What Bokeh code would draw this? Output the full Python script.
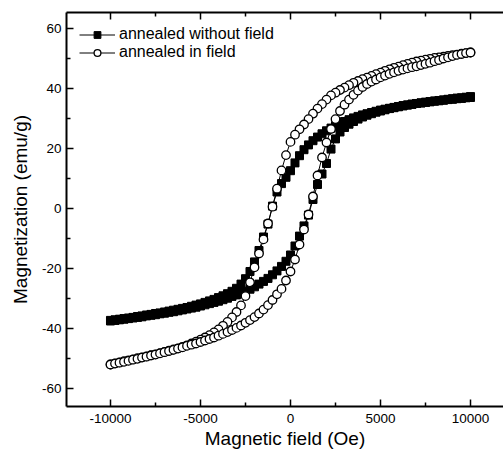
from bokeh.plotting import figure
from bokeh.models import Range1d, LinearAxis, FixedTicker, Legend, LegendItem
from bokeh.embed import file_html
from bokeh.resources import INLINE

# ---- data ----
field_down = [10000, 9750, 9500, 9250, 9000, 8750, 8500, 8250, 8000, 7750,
              7500, 7250, 7000, 6750, 6500, 6250, 6000, 5750, 5500, 5250,
              5000, 4750, 4500, 4250, 4000, 3750, 3500, 3250, 3000, 2750,
              2500, 2250, 2000, 1750, 1500, 1250, 1000, 750, 500, 250,
              0, -250, -500, -750, -1000, -1250, -1500, -1750, -2000, -2250,
              -2500, -2750, -3000, -3250, -3500, -3750, -4000, -4250, -4500, -4750,
              -5000, -5250, -5500, -5750, -6000, -6250, -6500, -6750, -7000, -7250,
              -7500, -7750, -8000, -8250, -8500, -8750, -9000, -9250, -9500, -9750,
              -10000]
field_up = [-10000, -9750, -9500, -9250, -9000, -8750, -8500, -8250, -8000, -7750,
            -7500, -7250, -7000, -6750, -6500, -6250, -6000, -5750, -5500, -5250,
            -5000, -4750, -4500, -4250, -4000, -3750, -3500, -3250, -3000, -2750,
            -2500, -2250, -2000, -1750, -1500, -1250, -1000, -750, -500, -250,
            0, 250, 500, 750, 1000, 1250, 1500, 1750, 2000, 2250,
            2500, 2750, 3000, 3250, 3500, 3750, 4000, 4250, 4500, 4750,
            5000, 5250, 5500, 5750, 6000, 6250, 6500, 6750, 7000, 7250,
            7500, 7750, 8000, 8250, 8500, 8750, 9000, 9250, 9500, 9750,
            10000]

# annealed without field (filled squares)
m_nofield_down = [37.0, 36.9, 36.7, 36.6, 36.4, 36.3, 36.1, 35.9, 35.8, 35.6,
                  35.4, 35.2, 35.0, 34.8, 34.5, 34.3, 34.0, 33.7, 33.4, 33.1,
                  32.8, 32.4, 32.0, 31.6, 31.2, 30.7, 30.2, 29.6, 29.0, 28.3,
                  27.6, 26.8, 25.9, 24.9, 23.8, 22.6, 21.2, 19.6, 17.6, 15.2,
                  12.6, 10.4, 8.3, 5.5, 0.8, -5.2, -9.5, -14.0, -17.8, -21.0,
                  -23.4, -25.2, -26.6, -27.6, -28.4, -29.1, -29.7, -30.3, -30.8, -31.3,
                  -31.8, -32.2, -32.6, -33.0, -33.3, -33.6, -33.9, -34.2, -34.5, -34.8,
                  -35.0, -35.3, -35.5, -35.8, -36.0, -36.3, -36.5, -36.7, -36.9, -37.1,
                  -37.3]
m_nofield_up = [-37.5, -37.3, -37.1, -36.9, -36.7, -36.5, -36.3, -36.1, -35.8, -35.6,
                -35.4, -35.1, -34.9, -34.6, -34.4, -34.1, -33.8, -33.5, -33.2, -32.9,
                -32.5, -32.1, -31.7, -31.3, -30.9, -30.4, -29.9, -29.3, -28.8, -28.2,
                -27.6, -26.9, -26.1, -25.2, -24.3, -23.3, -22.1, -20.8, -19.3, -17.6,
                -15.5, -12.5, -9.2, -5.8, -2.2, 3.0, 8.0, 11.5, 15.0, 19.8,
                23.2, 25.5, 27.0, 28.1, 29.0, 29.8, 30.5, 31.1, 31.6, 32.1,
                32.5, 32.9, 33.3, 33.6, 33.9, 34.2, 34.5, 34.7, 35.0, 35.2,
                35.4, 35.6, 35.8, 36.0, 36.2, 36.4, 36.6, 36.8, 36.9, 37.1,
                37.3]

# annealed in field (open circles)
m_field_down = [52.0, 51.8, 51.6, 51.3, 51.1, 50.9, 50.6, 50.4, 50.2, 49.9,
                49.6, 49.3, 49.0, 48.6, 48.2, 47.8, 47.3, 46.9, 46.4, 45.9,
                45.3, 44.8, 44.2, 43.6, 43.1, 42.5, 41.9, 41.1, 40.3, 39.5,
                38.6, 37.7, 36.3, 34.8, 33.3, 31.6, 29.8, 28.0, 26.4, 24.6,
                22.2, 17.8, 12.7, 6.6, 0.6, -5.0, -10.3, -15.0, -19.6, -24.6,
                -29.2, -32.3, -34.5, -36.3, -37.8, -39.1, -40.3, -41.3, -42.2, -43.0,
                -43.7, -44.4, -45.0, -45.6, -46.1, -46.6, -47.0, -47.4, -47.8, -48.2,
                -48.6, -48.9, -49.3, -49.6, -49.9, -50.3, -50.6, -50.9, -51.3, -51.6,
                -52.0]
m_field_up = [-52.0, -51.7, -51.4, -51.1, -50.8, -50.4, -50.1, -49.7, -49.4, -49.0,
              -48.7, -48.3, -47.9, -47.5, -47.1, -46.7, -46.3, -45.8, -45.4, -45.0,
              -44.5, -44.0, -43.5, -43.0, -42.4, -41.8, -41.2, -40.5, -39.8, -39.0,
              -38.1, -37.2, -36.2, -35.0, -33.7, -32.2, -30.5, -28.6, -26.8, -24.0,
              -21.0, -17.0, -12.0, -7.0, -2.0, 4.0, 11.0, 17.0, 22.0, 26.5,
              29.8, 32.5, 34.6, 36.3, 37.9, 39.3, 40.5, 41.5, 42.3, 43.0,
              43.7, 44.3, 44.9, 45.4, 45.9, 46.3, 46.7, 47.1, 47.4, 47.8,
              48.2, 48.6, 49.1, 49.5, 50.0, 50.4, 50.8, 51.2, 51.5, 51.8,
              52.0]

labels = ["annealed without field", "annealed in field"]
x_ticks = [-10000, -5000, 0, 5000, 10000]
x_tick_labels = ["-10000", "-5000", "0", "5000", "10000"]
x_minor = [-12500, -7500, -2500, 2500, 7500]
y_ticks = [-60, -40, -20, 0, 20, 40, 60]
y_tick_labels = ["-60", "-40", "-20", "0", "20", "40", "60"]
y_minor = [-50, -30, -10, 10, 30, 50]

FONT = "Liberation Sans"

p = figure(width=503, height=454, output_backend="svg", toolbar_location=None,
           x_range=Range1d(-12444, 11833), y_range=Range1d(-66, 65.33),
           min_border_left=66, min_border_right=0, min_border_top=12,
           min_border_bottom=48)
p.outline_line_color = None
p.grid.visible = False
p.background_fill_color = "white"
p.border_fill_color = "white"

x_all_nf = field_down + field_up
m_all_nf = m_nofield_down + m_nofield_up
x_all_f = field_down + field_up
m_all_f = m_field_down + m_field_up

l1 = p.line(x_all_nf, m_all_nf, line_color="black", line_width=1)
s1 = p.scatter(x_all_nf, m_all_nf, marker="square", size=8,
               fill_color="black", line_color="black", line_width=1)
l2 = p.line(x_all_f, m_all_f, line_color="black", line_width=1)
s2 = p.scatter(x_all_f, m_all_f, marker="circle", size=8.5,
               fill_color="white", line_color="black", line_width=1.3)


def style(ax, ticks, minor, tick_labels=None):
    ax.ticker = FixedTicker(ticks=ticks, minor_ticks=minor)
    ax.axis_line_width = 2
    ax.axis_line_color = "black"
    ax.major_tick_in = 7
    ax.major_tick_out = 0
    ax.minor_tick_in = 4
    ax.minor_tick_out = 0
    ax.major_tick_line_width = 1.5
    ax.minor_tick_line_width = 1.5
    ax.major_tick_line_color = "black"
    ax.minor_tick_line_color = "black"
    ax.major_label_text_font = FONT
    if tick_labels is not None:
        ax.major_label_overrides = {t: s for t, s in zip(ticks, tick_labels)}
        ax.major_label_text_font_size = "13.5px"
        ax.major_label_text_color = "black"
    else:
        ax.major_label_text_font_size = "1px"
        ax.major_label_text_color = None
        ax.major_label_standoff = 0
    ax.axis_label_text_font = FONT
    ax.axis_label_text_font_style = "normal"
    ax.axis_label_text_font_size = "19px"
    ax.axis_label_text_color = "black"


style(p.xaxis[0], x_ticks, x_minor, x_tick_labels)
style(p.yaxis[0], y_ticks, y_minor, y_tick_labels)
p.xaxis[0].axis_label = "Magnetic field (Oe)"
p.xaxis[0].major_label_standoff = 7
p.xaxis[0].axis_label_standoff = 2
p.yaxis[0].axis_label = "Magnetization (emu/g)"
p.yaxis[0].major_label_standoff = 5
p.yaxis[0].axis_label_standoff = 8

top = LinearAxis()
style(top, x_ticks, x_minor)
p.add_layout(top, "above")

legend = Legend(items=[LegendItem(label=labels[0], renderers=[l1, s1]),
                       LegendItem(label=labels[1], renderers=[l2, s2])],
                location="top_left", margin=13, padding=0, spacing=0,
                glyph_width=36, glyph_height=17, label_height=17,
                label_standoff=4, label_text_font=FONT,
                label_text_font_size="16px", label_text_color="black",
                border_line_color=None, background_fill_alpha=0)
p.add_layout(legend)

open("out.html", "w").write(file_html(p, INLINE))
